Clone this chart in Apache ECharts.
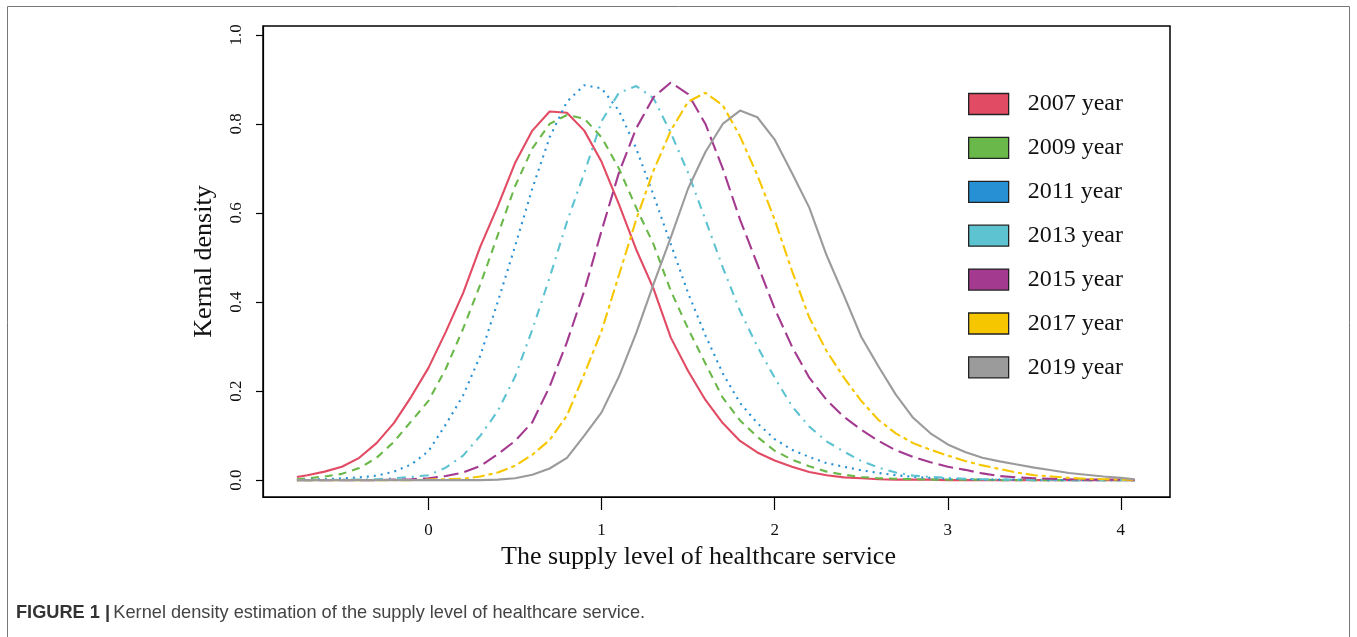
<!DOCTYPE html>
<html><head><meta charset="utf-8">
<script src="https://cdn.jsdelivr.net/npm/echarts@6/dist/echarts.min.js"></script>
<style>html,body{margin:0;padding:0;background:#fff}#c{width:1357px;height:637px}</style>
</head><body><div id="c"></div>
<script>
// x positions of the density estimates
const xs = [-0.76,-0.7,-0.6,-0.5,-0.4,-0.3,-0.2,-0.1,0.0,0.1,
  0.2,0.3,0.4,0.5,0.6,0.7,0.8,0.9,1.0,1.1,
  1.2,1.3,1.4,1.5,1.6,1.7,1.8,1.9,2.0,2.1,
  2.2,2.3,2.4,2.5,2.6,2.7,2.8,2.9,3.0,3.1,
  3.2,3.3,3.4,3.5,3.6,3.7,3.8,3.9,4.0,4.08];

const y2007 = [0.007,0.011,0.019,0.030,0.050,0.083,0.128,0.187,0.252,0.333,
  0.420,0.525,0.615,0.712,0.785,0.828,0.825,0.785,0.715,0.620,
  0.518,0.430,0.320,0.245,0.180,0.128,0.088,0.062,0.044,0.030,
  0.018,0.011,0.006,0.004,0.002,0.001,0.001,0.001,0,0,
  0,0,0,0,0,0,0,0,0,0];
const y2009 = [0.002,0.004,0.008,0.014,0.027,0.050,0.086,0.132,0.178,0.250,
  0.340,0.440,0.550,0.660,0.745,0.800,0.820,0.812,0.770,0.700,
  0.612,0.530,0.425,0.340,0.262,0.185,0.134,0.097,0.066,0.046,
  0.031,0.019,0.012,0.007,0.004,0.003,0.002,0.001,0.001,0.001,
  0.001,0,0,0,0,0,0,0,0,0];
const y2011 = [0.000,0.001,0.002,0.004,0.006,0.010,0.019,0.035,0.065,0.125,
  0.190,0.280,0.400,0.525,0.655,0.770,0.850,0.887,0.880,0.830,
  0.745,0.640,0.530,0.420,0.325,0.240,0.173,0.128,0.092,0.068,
  0.052,0.038,0.030,0.022,0.016,0.011,0.007,0.005,0.003,0.002,
  0.001,0.001,0.001,0,0,0,0,0,0,0];
const y2013 = [0,0,0,0.001,0.001,0.002,0.004,0.007,0.011,0.028,
  0.055,0.100,0.155,0.232,0.338,0.455,0.580,0.690,0.806,0.870,
  0.885,0.858,0.780,0.690,0.585,0.478,0.380,0.300,0.230,0.166,
  0.120,0.087,0.064,0.043,0.028,0.017,0.010,0.007,0.005,0.003,
  0.002,0.001,0.001,0.001,0.001,0,0,0,0,0];
const y2015 = [0,0,0,0,0,0,0.001,0.002,0.004,0.009,
  0.017,0.032,0.058,0.088,0.130,0.210,0.310,0.425,0.560,0.690,
  0.790,0.860,0.893,0.867,0.800,0.700,0.585,0.485,0.385,0.300,
  0.230,0.180,0.142,0.113,0.088,0.067,0.052,0.040,0.030,0.023,
  0.015,0.009,0.006,0.004,0.003,0.002,0.001,0.001,0.001,0];
const y2017 = [0,0,0,0,0,0,0,0,0.001,0.002,
  0.003,0.008,0.017,0.032,0.057,0.090,0.145,0.238,0.335,0.460,
  0.585,0.695,0.785,0.850,0.870,0.842,0.772,0.685,0.585,0.470,
  0.365,0.290,0.230,0.178,0.135,0.105,0.083,0.068,0.055,0.043,
  0.033,0.025,0.017,0.011,0.008,0.005,0.003,0.002,0.001,0.001];
const y2019 = [0,0,0,0,0,0,0,0,0,0,
  0,0,0.001,0.004,0.012,0.026,0.050,0.100,0.152,0.232,
  0.330,0.440,0.545,0.655,0.737,0.800,0.830,0.815,0.765,0.690,
  0.612,0.505,0.415,0.322,0.255,0.192,0.140,0.105,0.080,0.063,
  0.050,0.042,0.035,0.028,0.022,0.016,0.012,0.008,0.005,0.002];

const seriesNames = ['2007 year','2009 year','2011 year','2013 year','2015 year','2017 year','2019 year'];
const xTicks = [0, 1, 2, 3, 4];
const yTicks = [0, 0.2, 0.4, 0.6, 0.8, 1.0];

const allY = [y2007,y2009,y2011,y2013,y2015,y2017,y2019];
const colors = ['#E24B64','#6AB84A','#2790D4','#5DC3D1','#A43A90','#F6C700','#9B9B9B'];
const dashes = ['solid',[8,6],[2,5],[2,6,9,6],[15,6],[4,4,12,4],'solid'];

const serif = 'Liberation Serif';
const chart = echarts.init(document.getElementById('c'));
chart.setOption({
  backgroundColor: '#fff',
  animation: false,
  grid: {left: 263, right: 187, top: 26, bottom: 140, show: true, borderColor: '#000', borderWidth: 1.5, backgroundColor: 'transparent'},
  xAxis: {type: 'value', min: -0.956, max: 4.284, position: 'bottom',
    splitLine: {show: false},
    axisLine: {show: true, onZero: false, lineStyle: {color: '#000', width: 1.2}},
    axisTick: {show: true, length: 13, customValues: xTicks, lineStyle: {color: '#000', width: 1.2}},
    axisLabel: {margin: 25, customValues: xTicks, fontFamily: serif, fontSize: 17, color: '#111',
      formatter: v => String(v)},
    name: 'The supply level of healthcare service', nameLocation: 'middle', nameGap: 43,
    nameTextStyle: {fontFamily: serif, fontSize: 26, color: '#111', padding: [0, 36, 0, 0]}},
  yAxis: {type: 'value', min: -0.038, max: 1.020, position: 'left',
    splitLine: {show: false},
    axisLine: {show: true, onZero: false, lineStyle: {color: '#000', width: 1.2}},
    axisTick: {show: true, length: 7, customValues: yTicks, lineStyle: {color: '#000', width: 1.2}},
    axisLabel: {rotate: 90, margin: 18, customValues: yTicks, fontFamily: serif, fontSize: 17, color: '#111',
      formatter: v => v.toFixed(1)},
    name: 'Kernal density', nameLocation: 'middle', nameGap: 46,
    nameTextStyle: {fontFamily: serif, fontSize: 26, color: '#111'}},
  legend: {
    orient: 'vertical', left: 968, top: 92, itemWidth: 40, itemHeight: 21, itemGap: 19.9,
    icon: 'rect', padding: 0,
    itemStyle: {borderColor: '#222', borderWidth: 1.3},
    textStyle: {fontFamily: serif, fontSize: 24, color: '#111', padding: [0, 0, 0, 14]},
    data: seriesNames
  },
  series: seriesNames.map((n, i) => ({
    name: n, type: 'line', clip: false,
    showSymbol: false, symbol: 'none',
    color: colors[i],
    itemStyle: {color: colors[i]},
    lineStyle: {color: colors[i], width: 2.1, type: dashes[i]},
    data: xs.map((x, k) => [x, allY[i][k]])
  })),
  graphic: [
    {type: 'rect', shape: {x: 7.5, y: 6.5, width: 1342, height: 650}, style: {fill: 'none', stroke: '#777', lineWidth: 1}, silent: true},
    {type: 'text', left: 16, top: 604, style: {
      text: '{b|FIGURE 1 |} {r|Kernel density estimation of the supply level of healthcare service.}',
      rich: {
        b: {fontFamily: 'Liberation Sans', fontWeight: 'bold', fontSize: 18.2, fill: '#333'},
        r: {fontFamily: 'Liberation Sans', fontSize: 18.2, fill: '#444'}
      }
    }}
  ]
});
</script>
</body></html>
